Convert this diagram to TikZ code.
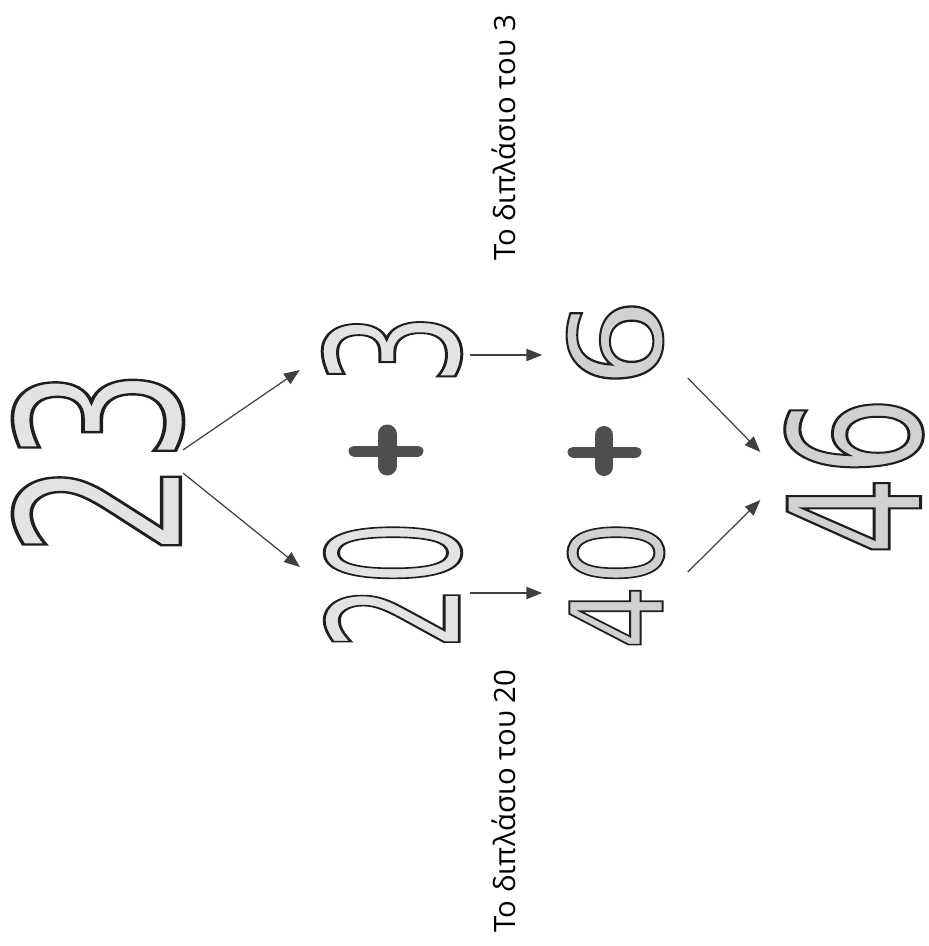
\documentclass[tikz,border=0pt]{standalone}
\usepackage{fontspec}
\usepackage{graphicx}
\usetikzlibrary{arrows.meta}
\setmainfont{Open Sans}
\newfontface\chiffrebord{DejaVu Sans}[FakeBold=1.6]
\definecolor{grisfonce}{HTML}{4F4F4F}
\newlength\pxu \setlength\pxu{0.02cm}
% nombre creux couche : longueur, hauteur, gris du fond, chiffres
\newcommand\nombre[4]{\rotatebox{90}{\resizebox{#1\pxu}{#2\pxu}{\chiffrebord\special{pdf:bcolor [#3] [0.12]}#4\special{pdf:ecolor}}}}
\tikzset{
  fleche/.style={draw=black!75, line width=0.7pt, -{Triangle[length=9pt,width=7pt]}},
  legende/.style={rotate=90, anchor=base, font=\fontsize{16.7}{20}\selectfont},
  barre/.style={grisfonce, line cap=round}
}
\begin{document}
\begin{tikzpicture}[x=0.02cm, y=-0.02cm, inner sep=0pt]
    \useasboundingbox (0,0) rectangle (929,946); % taille de l'image

    % Les nombres
    \node (n23) at (98,462) {\nombre{188}{168}{0.89}{23}};
    \node (n3)  at (392,349) {\nombre{72}{137}{0.89}{3}};
    \node (n20) at (393,585) {\nombre{129}{135}{0.89}{20}};
    \node (n6)  at (615,343) {\nombre{91}{95}{0.82}{6}};
    \node (n40) at (616,585) {\nombre{129}{95}{0.82}{40}};
    \node (n46) at (854,476) {\nombre{159}{136}{0.82}{46}};

    % Les signes +
    \draw[barre, line width=11\pxu] (354,451) -- (418,451);
    \draw[barre, line width=19\pxu] (387,434) -- (387,466);
    \draw[barre, line width=11\pxu] (573,452) -- (636,452);
    \draw[barre, line width=18\pxu] (604,435) -- (604,467);

    % Les fleches
    \draw[fleche] ([shift={(-1,-12)}]n23.east) -- ([shift={(-22,21)}]n3.west);
    \draw[fleche] ([shift={(-1,11)}]n23.east) -- ([shift={(-24,-18)}]n20.west);
    \draw[fleche] ([shift={(8,6)}]n3.east) -- ([shift={(-24,12)}]n6.west);
    \draw[fleche] ([shift={(8,8)}]n20.east) -- ([shift={(-25,8)}]n40.west);
    \draw[fleche] ([shift={(24,35)}]n6.east) -- ([shift={(-24,-24)}]n46.west);
    \draw[fleche] ([shift={(23,-13)}]n40.east) -- ([shift={(-24,24)}]n46.west);

    % Les legendes
    \node[legende] (lab3) at (515,138) {Το διπλάσιο του 3};
    \node[legende] (lab20) at (515,801) {Το διπλάσιο του 20};
\end{tikzpicture}
\end{document}
